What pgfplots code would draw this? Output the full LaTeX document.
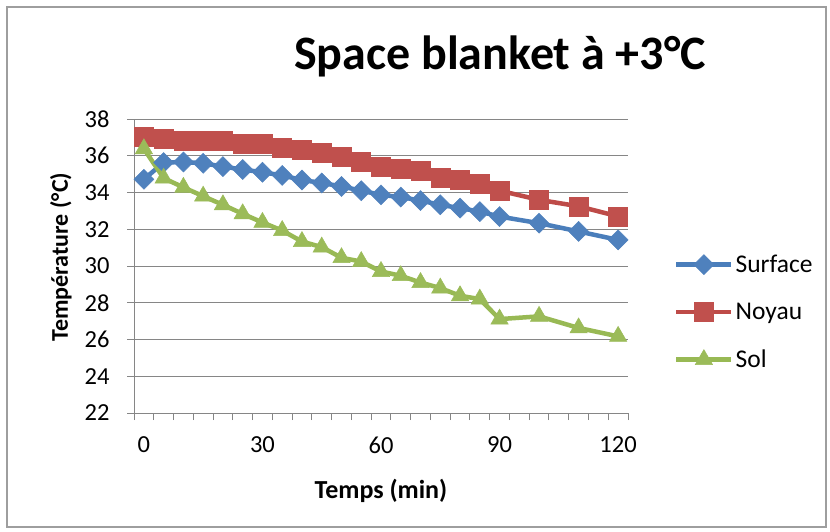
\documentclass[border=0pt]{standalone}
\usepackage{pgfplots}
\pgfplotsset{compat=1.18}
\usepackage{fontspec}
\setmainfont{Carlito}
\definecolor{cblue}{HTML}{4A7EBB}
\definecolor{cbluem}{HTML}{4F81BD}
\definecolor{cred}{HTML}{BE4B48}
\definecolor{credm}{HTML}{C0504D}
\definecolor{cgreen}{HTML}{98B954}
\definecolor{cgreenm}{HTML}{9BBB59}
\definecolor{cgrid}{HTML}{868686}
\pgfplotstableread{
t surf noyau sol
0   34.72 37.04 36.38
5   35.63 36.95 34.78
10  35.66 36.82 34.28
15  35.59 36.82 33.80
20  35.41 36.82 33.33
25  35.25 36.68 32.84
30  35.10 36.68 32.37
35  34.93 36.44 31.93
40  34.68 36.32 31.33
45  34.52 36.17 31.03
50  34.33 35.95 30.45
55  34.10 35.68 30.24
60  33.87 35.42 29.70
65  33.75 35.30 29.47
70  33.56 35.17 29.10
75  33.33 34.82 28.80
80  33.15 34.67 28.38
85  32.96 34.45 28.20
90  32.69 34.10 27.11
100 32.33 33.60 27.26
110 31.88 33.25 26.63
120 31.42 32.70 26.17
}\datatable
\begin{document}
\begin{tikzpicture}[x=1pt,y=1pt]
\path[use as bounding box, fill=white] (0,0) rectangle (830,531);
\draw[cgrid!80, line width=1.5pt] (7,4) rectangle (826,524);
\node[anchor=base, font=\fontsize{48}{56}\selectfont\bfseries] at (500,461) {Space blanket à +3°C};
\begin{axis}[
  at={(134pt,118pt)}, anchor=south west,
  scale only axis, width=494pt, height=294pt,
  xmin=-2.5, xmax=122.5, ymin=22, ymax=38,
  axis lines*=left,
  axis line style={cgrid, line width=1pt},
  xtick={0,30,60,90,120},
  minor xtick={-2.5,2.5,...,122.5},
  ytick={22,24,...,38},
  tick align=outside,
  major x tick style={draw=none},
  minor tick length=7pt,
  major tick length=7pt,
  every tick/.style={cgrid, line width=1pt},
  ymajorgrids,
  grid style={cgrid, line width=1pt},
  /pgf/number format/assume math mode=true,
  tick label style={font=\fontsize{24.5}{28}\selectfont},
  xticklabel style={yshift=-13pt},
  yticklabel style={xshift=-14pt},
  xlabel={Temps (min)},
  ylabel={Température (°C)},
  xlabel style={font=\fontsize{26}{30}\selectfont\bfseries, at={(axis description cs:0.5,0)}, anchor=base, yshift=-85pt},
  ylabel style={font=\fontsize{24}{28}\selectfont\bfseries, at={(axis description cs:-0.134,0.53)}, anchor=base},
  legend style={at={(axis description cs:1.093,0.343)}, anchor=west, draw=none, fill=none,
    font=\fontsize{25.5}{28}\selectfont, row sep=25pt, inner sep=0pt,
    /tikz/every even column/.append style={column sep=5pt}},
  legend cell align=left,
  legend image code/.code={\draw[mark repeat=2,mark phase=2,#1] plot coordinates {(0pt,0pt) (27.5pt,0pt) (55pt,0pt)};},
  clip=false,
]
\addplot[cblue, line width=4.5pt, mark=square*, mark size=7.07pt, mark options={rotate=45, fill=cbluem, draw=cbluem, line width=0.5pt}] table[x=t,y=surf] {\datatable};
\addlegendentry{Surface}
\addplot[cred, line width=4.5pt, mark=square*, mark size=9.5pt, mark options={fill=credm, draw=credm, line width=0.5pt}] table[x=t,y=noyau] {\datatable};
\addlegendentry{Noyau}
\addplot[cgreen, line width=4.5pt, mark=triangle*, mark size=10pt, mark options={fill=cgreenm, draw=cgreenm, line width=0.5pt}] table[x=t,y=sol] {\datatable};
\addlegendentry{Sol}
\end{axis}
\end{tikzpicture}
\end{document}
